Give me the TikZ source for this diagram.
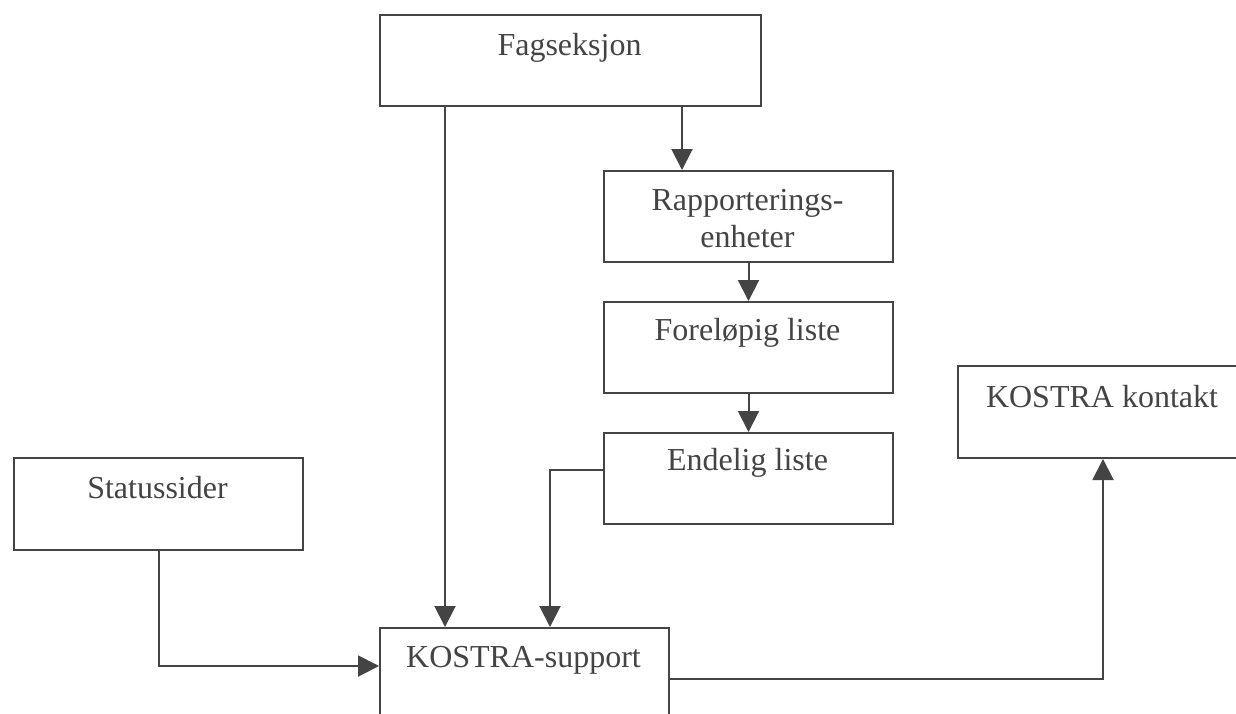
\documentclass[tikz,border=0pt]{standalone}
\usepackage{fontspec}
\setmainfont{Liberation Serif}
\usetikzlibrary{arrows.meta}
\definecolor{ink}{HTML}{444444}
\tikzset{
  box/.style={draw=ink, line width=2pt, rectangle, inner sep=0pt, anchor=north west},
  lbl/.style={text=ink, anchor=base, inner sep=0pt, font=\fontsize{32}{37}\selectfont},
  arr/.style={draw=ink, line width=2pt, -{Triangle[length=21pt,width=21pt]}},
}
\begin{document}
\begin{tikzpicture}[x=1pt,y=-1pt]
\useasboundingbox (0,0) rectangle (1236,713);
\clip (0,0) rectangle (1236,713);
\fill[white] (0,0) rectangle (1236,713);
% boxes
\node[box, minimum width=381pt, minimum height=91pt] (fag) at (379,14) {};
\node[box, minimum width=289pt, minimum height=91pt] (rapp) at (603,170) {};
\node[box, minimum width=289pt, minimum height=91pt] (fore) at (603,301) {};
\node[box, minimum width=289pt, minimum height=91pt] (end) at (603,432) {};
\node[box, minimum width=289pt, minimum height=92pt] (stat) at (13,457) {};
\node[box, minimum width=290pt, minimum height=92pt] (kont) at (957,365) {};
\node[box, minimum width=289pt, minimum height=95pt] (sup) at (379,627) {};
% labels
\node[lbl] (tfag) at (569.5,55) {Fagseksjon};
\node[lbl] (trapp1) at (747.5,210) {Rapporterings-};
\node[lbl] (trapp2) at (747.5,247) {enheter};
\node[lbl] (tfore) at (747.5,340) {Foreløpig liste};
\node[lbl] (tend) at (747.5,470) {Endelig liste};
\node[lbl] (tstat) at (157.5,498) {Statussider};
\node[lbl] (tkont) at (1102,407) {KOSTRA kontakt};
\node[lbl] (tsup) at (523.5,667) {KOSTRA-support};
% connectors
\draw[arr] ([xshift=66pt]fag.south west) -- ([xshift=66pt]sup.north west);
\draw[arr] ([xshift=303pt]fag.south west) -- ([xshift=79pt]rapp.north west);
\draw[arr] (rapp.south) -- (fore.north);
\draw[arr] (fore.south) -- (end.north);
\draw[arr] ([yshift=-38pt]end.north west) -| ([xshift=171pt]sup.north west);
\draw[arr] (stat.south) |- ([yshift=-39pt]sup.north west);
\draw[arr] ([yshift=-52pt]sup.north east) -| (kont.south);
\end{tikzpicture}
\end{document}
